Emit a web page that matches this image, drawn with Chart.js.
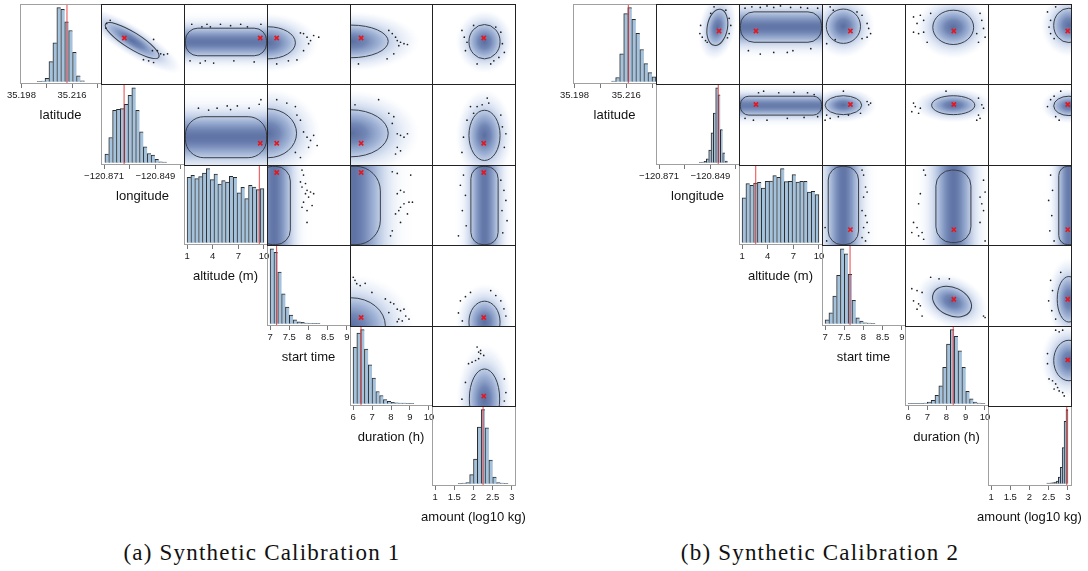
<!DOCTYPE html>
<html>
<head>
<meta charset="utf-8">
<script src="https://cdn.jsdelivr.net/npm/chart.js@4.4.1/dist/chart.umd.min.js"></script>
<style>
  html, body { margin: 0; padding: 0; background: #fff; }
  #fig { position: relative; width: 1088px; height: 571px; overflow: hidden; background: #fff; }
  #fig canvas { position: absolute; }
  .cap { position: absolute; width: 600px; text-align: center; white-space: nowrap;
         font-family: 'Liberation Serif', 'Times New Roman', serif; font-size: 23px;
         letter-spacing: 1.2px; line-height: 26px; color: #111; }
</style>
</head>
<body>
<div id="fig"></div>
<script>
// ---- variables and axes -------------------------------------------------
const variableNames = ['latitude', 'longitude', 'altitude (m)', 'start time', 'duration (h)', 'amount (log10 kg)'];
const axisMin = [35.1975, -120.8723, 0.64, 6.92, 5.84, 0.92];
const axisMax = [35.2263, -120.8367, 10.36, 9.08, 10.16, 3.08];

const latTicks = [35.198, 35.207, 35.216, 35.225];
const latTickLabels = ['35.198', '', '35.216', ''];
const lonTicks = [-120.871, -120.860, -120.849, -120.838];
const lonTickLabels = ['\u2212120.871', '', '\u2212120.849', ''];
const altTicks = [1, 4, 7, 10];
const altTickLabels = ['1', '4', '7', '10'];
const startTicks = [7, 7.5, 8, 8.5, 9];
const startTickLabels = ['7', '7.5', '8', '8.5', '9'];
const durTicks = [6, 7, 8, 9, 10];
const durTickLabels = ['6', '7', '8', '9', '10'];
const amtTicks = [1, 1.5, 2, 2.5, 3];
const amtTickLabels = ['1', '1.5', '2', '2.5', '3'];

// ---- histograms: bin centres and heights --------------------------------
const latBinsA = [35.2043, 35.2057, 35.2071, 35.2085, 35.2099, 35.2113, 35.2127, 35.2141, 35.2155, 35.2169, 35.2183, 35.2197];
const latCountsA = [1, 2, 10, 60, 116, 221, 216, 179, 153, 88, 18, 3];
const lonBinsA = [-120.86980, -120.86815, -120.86650, -120.86485, -120.86320, -120.86155, -120.85990, -120.85825,
                  -120.85660, -120.85495, -120.85330, -120.85165, -120.85000, -120.84835, -120.84670, -120.84505];
const lonCountsA = [26, 76, 158, 161, 163, 176, 203, 226, 158, 93, 48, 28, 23, 10, 3, 2];
const altBins = [1.225, 1.675, 2.125, 2.575, 3.025, 3.475, 3.925, 4.375, 4.825, 5.275,
                 5.725, 6.175, 6.625, 7.075, 7.525, 7.975, 8.425, 8.875, 9.325, 9.775];
const altCountsA = [197, 203, 193, 199, 210, 223, 190, 207, 177, 187, 183, 200, 197, 150, 167, 133, 173, 168, 160, 163];
const startBins = [7.05, 7.15, 7.25, 7.35, 7.45, 7.55, 7.65, 7.75, 7.85, 7.95, 8.05, 8.15, 8.25];
const startCountsA = [226, 215, 156, 90, 50, 26, 12, 6, 4, 2, 1.5, 1, 1];
const durBinsA = [6.1, 6.3, 6.5, 6.7, 6.9, 7.1, 7.3, 7.5, 7.7, 7.9, 8.1, 8.3, 8.5, 8.7, 8.9, 9.1];
const durCountsA = [170, 213, 223, 165, 117, 77, 37, 25, 13, 7, 4, 3, 2, 2, 1, 1];
const amtBinsA = [1.65, 1.75, 1.85, 1.95, 2.05, 2.15, 2.25, 2.35, 2.45, 2.55, 2.65, 2.75, 2.85];
const amtCountsA = [1, 2, 4, 28, 75, 172, 225, 170, 72, 20, 4, 2, 1];

const latBinsB = [35.2116, 35.2130, 35.2144, 35.2158, 35.2172, 35.2186, 35.2200, 35.2214, 35.2228, 35.2242, 35.2256];
const latCountsB = [2, 13, 85, 207, 225, 190, 147, 98, 55, 28, 15];
const lonBinsB = [-120.8532, -120.8522, -120.8512, -120.8502, -120.8492, -120.8482,
                  -120.8472, -120.8462, -120.8452, -120.8442, -120.8432, -120.8422];
const lonCountsB = [1, 2, 4, 12, 38, 90, 150, 226, 205, 100, 30, 5];
const altCountsB = [135, 178, 173, 180, 182, 165, 185, 186, 202, 197, 223, 184, 185, 205, 183, 185, 185, 153, 155, 145];
const startCountsB = [12, 33, 83, 145, 225, 210, 148, 70, 18, 8, 3, 2, 1];
const durBinsB = [6.1, 6.3, 6.5, 6.7, 6.9, 7.1, 7.3, 7.5, 7.7, 7.9, 8.1, 8.3, 8.5, 8.7, 8.9, 9.1, 9.3, 9.5, 9.7, 9.9];
const durCountsB = [1, 1, 1, 1, 2, 5, 10, 25, 53, 108, 177, 220, 200, 157, 108, 37, 15, 5, 2, 1];
const amtBinsB = [2.475, 2.525, 2.575, 2.625, 2.675, 2.725, 2.775, 2.825, 2.875, 2.925, 2.975];
const amtCountsB = [2, 2, 3, 4, 5, 8, 20, 50, 110, 190, 225];

// true parameter values (red lines / red crosses)
const truthA = [35.2142, -120.8624, 9.46, 7.17, 6.42, 2.25];
const truthB = [35.2167, -120.8456, 2.6, 7.65, 8.35, 2.97];

// ---- pair densities: [row, col, centreX, centreY, halfX, halfY, rotationDeg, shape] ----
// shape 'e' = elliptical contour, 'r' = flat band (uniform parameter)
const blobsA = [
  [0, 1, -120.8591, 35.2133, 0.0133, 0.00288, 32, 'e'],
  [0, 2, 5.5, 35.2128, 4.7, 0.0049, 0, 'r'],
  [0, 3, 6.95, 35.2125, 0.70, 0.0057, 0, 'e'],
  [0, 4, 5.9, 35.2130, 1.93, 0.0058, 0, 'e'],
  [0, 5, 2.27, 35.2129, 0.40, 0.0061, 0, 'e'],
  [1, 2, 5.5, -120.8598, 4.7, 0.0089, 0, 'r'],
  [1, 3, 6.95, -120.8581, 0.73, 0.0106, 0, 'e'],
  [1, 4, 5.9, -120.8581, 1.93, 0.0102, 0, 'e'],
  [1, 5, 2.27, -120.8590, 0.40, 0.0109, 0, 'e'],
  [2, 3, 7.1, 5.5, 0.42, 4.7, 0, 'r'],
  [2, 4, 6.0, 5.5, 1.42, 4.7, 0, 'r'],
  [2, 5, 2.27, 5.5, 0.35, 4.7, 0, 'r'],
  [3, 4, 5.9, 6.95, 1.78, 0.74, 0, 'e'],
  [3, 5, 2.27, 7.05, 0.40, 0.55, 0, 'e'],
  [4, 5, 2.27, 6.27, 0.39, 1.60, 0, 'e']
];
const blobsB = [
  [0, 1, -120.8463, 35.2180, 0.0043, 0.0065, 10, 'e'],
  [0, 2, 5.5, 35.2181, 4.7, 0.0054, 0, 'r'],
  [0, 3, 7.47, 35.2184, 0.44, 0.0061, 0, 'e'],
  [0, 4, 8.32, 35.2180, 1.05, 0.0061, 0, 'e'],
  [0, 5, 3.0, 35.2187, 0.39, 0.0061, 0, 'e'],
  [1, 2, 5.5, -120.8461, 4.7, 0.0041, 0, 'r'],
  [1, 3, 7.47, -120.8459, 0.47, 0.0041, 0, 'e'],
  [1, 4, 8.32, -120.8459, 1.11, 0.0041, 0, 'e'],
  [1, 5, 3.0, -120.8462, 0.39, 0.0042, 0, 'e'],
  [2, 3, 7.47, 5.5, 0.39, 4.7, 0, 'r'],
  [2, 4, 8.33, 5.4, 0.90, 4.35, 0, 'r'],
  [2, 5, 3.0, 5.5, 0.26, 4.7, 0, 'r'],
  [3, 4, 8.26, 7.59, 1.05, 0.37, 25, 'e'],
  [3, 5, 3.0, 7.65, 0.30, 0.60, 0, 'e'],
  [4, 5, 3.0, 8.32, 0.39, 1.08, 0, 'e']
];

// ---- outlying samples in each pair panel: [x, y] ----
const dotsA01 = [[-120.8699,35.2194],[-120.8500,35.2137],[-120.8484,35.2097],[-120.8470,35.2086],[-120.8457,35.2083],[-120.8441,35.2086],[-120.8521,35.2061],[-120.8543,35.2065],[-120.8500,35.2055],[-120.8505,35.2097],[-120.8702,35.2177],[-120.8684,35.2205]];
const dotsA02 = [[1.54,35.2191],[2.71,35.2182],[3.30,35.2191],[3.69,35.2182],[4.86,35.2191],[6.03,35.2186],[7.20,35.2191],[7.98,35.2182],[9.54,35.2191],[1.34,35.2061],[2.51,35.2053],[3.10,35.2061],[4.07,35.2053],[6.41,35.2061],[8.76,35.2057]];
const dotsA03 = [[7.78,35.2160],[7.86,35.2158],[7.95,35.2145],[8.04,35.2133],[7.99,35.2122],[7.86,35.2097],[8.12,35.2151],[8.25,35.2145],[7.69,35.2064],[7.47,35.2061],[7.17,35.2050]];
const dotsA04 = [[7.86,35.2169],[8.04,35.2158],[8.21,35.2145],[8.30,35.2133],[8.47,35.2127],[8.65,35.2122],[8.83,35.2119],[8.38,35.2115],[8.12,35.2086],[7.77,35.2068],[6.28,35.2050]];
const dotsA05 = [[1.69,35.2169],[1.75,35.2145],[1.82,35.2127],[1.78,35.2097],[1.99,35.2187],[2.08,35.2050],[2.51,35.2061],[2.64,35.2073],[2.78,35.2091],[2.73,35.2122],[2.69,35.2163],[2.56,35.2181],[2.43,35.2050]];
const dotsA12 = [[2.31,-120.8472],[3.49,-120.8480],[4.47,-120.8472],[5.64,-120.8462],[6.03,-120.8478],[6.81,-120.8462],[8.17,-120.8472],[9.34,-120.8455],[9.54,-120.8435]];
const dotsA13 = [[7.43,-120.8450],[7.65,-120.8465],[7.69,-120.8502],[7.78,-120.8524],[7.86,-120.8575],[7.95,-120.8598],[8.04,-120.8612],[7.99,-120.8642],[8.12,-120.8590],[8.21,-120.8634],[7.65,-120.8664],[7.78,-120.8686],[7.17,-120.8435]];
const dotsA14 = [[6.10,-120.8457],[7.33,-120.8435],[7.86,-120.8494],[8.12,-120.8509],[8.04,-120.8538],[8.30,-120.8583],[8.47,-120.8590],[8.65,-120.8598],[8.83,-120.8583],[8.30,-120.8642],[8.21,-120.8671],[8.47,-120.8657]];
const dotsA15 = [[1.91,-120.8465],[2.08,-120.8465],[2.21,-120.8457],[2.38,-120.8450],[1.99,-120.8494],[1.82,-120.8524],[1.73,-120.8598],[1.69,-120.8664],[2.69,-120.8502],[2.73,-120.8553],[2.82,-120.8583],[2.78,-120.8642],[2.34,-120.8428]];
const dotsA23 = [[7.82,9.75],[7.86,9.15],[7.78,8.33],[7.91,8.14],[7.82,7.72],[7.95,7.32],[8.04,7.12],[7.91,6.92],[8.12,6.92],[7.99,6.51],[7.86,5.90],[7.82,5.29],[7.95,4.89],[8.08,5.50],[7.95,3.47]];
const dotsA24 = [[8.04,9.55],[8.30,9.35],[9.00,9.15],[8.47,7.32],[8.65,7.12],[8.30,6.92],[8.91,5.90],[8.65,5.71],[9.09,5.90],[8.47,5.29],[8.38,4.89],[8.83,4.49],[8.21,4.49],[8.47,3.47],[8.04,2.46],[7.95,1.86]];
const dotsA25 = [[1.73,9.15],[1.65,7.93],[1.78,6.72],[1.70,4.89],[1.80,3.07],[1.60,1.86],[2.69,8.54],[2.77,7.32],[2.82,6.11],[2.72,4.89],[2.85,3.68],[2.74,2.22]];
const dotsA34 = [[6.01,8.23],[6.10,8.15],[6.19,8.06],[6.37,8.01],[6.63,8.07],[6.98,7.83],[7.68,7.66],[7.95,7.57],[8.12,7.53],[8.30,7.39],[8.47,7.35],[8.65,7.39],[8.74,7.21],[8.38,7.13],[8.56,7.08],[8.30,7.06],[8.91,7.13],[7.86,7.30]];
const dotsA35 = [[1.65,7.61],[1.78,7.72],[1.91,7.83],[2.43,7.88],[2.56,7.75],[2.69,7.61],[2.77,7.40],[2.82,7.21],[1.60,7.29],[1.70,7.08]];
const dotsA45 = [[2.08,9.04],[2.12,8.77],[2.17,8.69],[2.25,8.59],[2.04,8.32],[1.95,8.23],[1.86,8.15],[1.78,7.15],[1.69,6.26],[2.78,7.34],[2.82,6.61],[2.78,6.16],[2.12,8.42],[2.17,8.86]];

const dotsB01 = [[-120.8534,35.2187],[-120.8537,35.2158],[-120.8527,35.2145],[-120.8513,35.2133],[-120.8506,35.2127],[-120.8413,35.2212],[-120.8406,35.2187],[-120.8413,35.2158],[-120.8420,35.2143],[-120.8491,35.2230],[-120.8477,35.2253],[-120.8427,35.2241]];
const dotsB02 = [[1.34,35.2248],[2.13,35.2253],[3.10,35.2251],[3.88,35.2256],[4.66,35.2251],[5.44,35.2256],[6.61,35.2251],[7.78,35.2251],[8.57,35.2248],[9.74,35.2248],[1.73,35.2097],[3.10,35.2085],[4.66,35.2091],[6.23,35.2091],[6.88,35.2097],[8.95,35.2104]];
const dotsB03 = [[7.13,35.2253],[7.21,35.2241],[7.82,35.2235],[7.95,35.2223],[8.08,35.2194],[8.12,35.2176],[8.17,35.2158],[8.08,35.2145],[7.95,35.2140],[7.04,35.2122],[7.26,35.2136]];
const dotsB04 = [[6.28,35.2217],[6.63,35.2223],[6.80,35.2205],[6.46,35.2194],[6.28,35.2163],[6.54,35.2158],[6.80,35.2163],[6.98,35.2127],[7.16,35.2230],[9.70,35.2230],[9.79,35.2205],[9.88,35.2176],[9.96,35.2145],[9.62,35.2127],[9.53,35.2158]];
const dotsB05 = [[2.45,35.2235],[2.53,35.2205],[2.49,35.2181],[2.53,35.2158],[2.62,35.2140],[2.66,35.2253]];
const dotsB12 = [[2.90,-120.8405],[3.49,-120.8398],[5.24,-120.8405],[7.00,-120.8403],[8.57,-120.8405],[9.34,-120.8413],[1.34,-120.8516],[2.31,-120.8524],[3.88,-120.8524],[6.23,-120.8516],[8.17,-120.8512],[9.74,-120.8509]];
const dotsB13 = [[8.08,-120.8443],[8.12,-120.8457],[8.17,-120.8450],[7.47,-120.8398],[7.04,-120.8502],[7.13,-120.8516],[7.34,-120.8509],[7.60,-120.8502],[7.91,-120.8494],[7.00,-120.8524]];
const dotsB14 = [[6.28,-120.8450],[6.37,-120.8465],[6.63,-120.8472],[6.54,-120.8494],[6.19,-120.8487],[9.62,-120.8428],[9.79,-120.8457],[9.88,-120.8472],[9.62,-120.8502],[9.53,-120.8524],[7.95,-120.8398],[9.70,-120.8516]];
const dotsB15 = [[2.45,-120.8465],[2.53,-120.8435],[2.62,-120.8420],[2.66,-120.8509],[2.75,-120.8524],[2.79,-120.8398]];
const dotsB23 = [[7.04,1.25],[7.95,9.75],[7.99,9.15],[8.04,7.72],[8.08,7.12],[7.99,6.51],[7.95,4.89],[8.04,4.29],[8.08,3.47],[7.99,2.86],[8.12,2.26],[7.95,1.65],[8.04,1.25],[7.00,2.86]];
const dotsB24 = [[6.80,9.75],[6.89,9.15],[6.63,6.92],[6.54,5.71],[6.28,3.47],[6.46,2.86],[6.19,2.26],[6.72,2.26],[6.54,1.86],[6.80,1.45],[9.88,8.54],[9.96,7.12],[9.70,6.51],[9.79,5.71],[9.88,4.89],[9.70,3.47],[9.96,1.25]];
const dotsB25 = [[2.53,9.15],[2.58,7.32],[2.48,6.11],[2.56,4.29],[2.51,2.46],[2.62,1.25]];
const dotsB34 = [[6.19,7.93],[6.46,7.88],[6.72,7.83],[6.28,7.61],[6.54,7.53],[6.63,7.48],[6.46,7.39],[6.72,7.21],[7.16,8.23],[7.59,8.19],[8.12,8.19],[9.88,7.21],[9.96,7.17]];
const dotsB35 = [[2.53,8.15],[2.58,7.88],[2.48,7.61],[2.56,7.35],[2.66,7.13],[2.79,8.36]];
const dotsB45 = [[2.66,9.94],[2.75,9.85],[2.84,9.94],[2.45,8.69],[2.45,8.15],[2.49,7.34],[2.58,7.24],[2.66,7.07],[2.71,6.88],[2.75,6.70],[2.84,6.61],[2.88,6.43],[2.62,6.80]];

// ---- layout ----------------------------------------------------------------
const rowEdges = [4, 84, 165, 245, 326, 406, 486];
const colEdgesA = [20, 101, 184, 267, 350, 432, 515];
const colEdgesB = [573, 656, 739, 822, 905, 988, 1071];
const AXIS_H = 44;
const PADX = 40;

const tickValues = [latTicks, lonTicks, altTicks, startTicks, durTicks, amtTicks];
const tickLabels = [latTickLabels, lonTickLabels, altTickLabels, startTickLabels, durTickLabels, amtTickLabels];

const panels = [
  {
    cols: colEdgesA, truth: truthA, blobs: blobsA,
    hist: [[latBinsA, latCountsA], [lonBinsA, lonCountsA], [altBins, altCountsA],
           [startBins, startCountsA], [durBinsA, durCountsA], [amtBinsA, amtCountsA]],
    dots: {'01': dotsA01, '02': dotsA02, '03': dotsA03, '04': dotsA04, '05': dotsA05,
           '12': dotsA12, '13': dotsA13, '14': dotsA14, '15': dotsA15,
           '23': dotsA23, '24': dotsA24, '25': dotsA25, '34': dotsA34, '35': dotsA35, '45': dotsA45}
  },
  {
    cols: colEdgesB, truth: truthB, blobs: blobsB,
    hist: [[latBinsB, latCountsB], [lonBinsB, lonCountsB], [altBins, altCountsB],
           [startBins, startCountsB], [durBinsB, durCountsB], [amtBinsB, amtCountsB]],
    dots: {'01': dotsB01, '02': dotsB02, '03': dotsB03, '04': dotsB04, '05': dotsB05,
           '12': dotsB12, '13': dotsB13, '14': dotsB14, '15': dotsB15,
           '23': dotsB23, '24': dotsB24, '25': dotsB25, '34': dotsB34, '35': dotsB35, '45': dotsB45}
  }
];

const FONT = "'Liberation Sans', Arial, Helvetica, sans-serif";
Chart.defaults.font.family = FONT;
Chart.defaults.animation = false;

const fig = document.getElementById('fig');
function addCanvas(left, top, w, h) {
  const c = document.createElement('canvas');
  c.width = w; c.height = h;
  c.style.left = left + 'px'; c.style.top = top + 'px';
  fig.appendChild(c);
  return c;
}

// colour ramp of the smoothed density, by distance relative to the contour
const densityRamp = [
  [0.00, 'rgba(90,110,160,1)'],
  [0.40, 'rgba(108,130,178,0.96)'],
  [0.75, 'rgba(142,164,205,0.86)'],
  [1.00, 'rgba(170,189,222,0.74)'],
  [1.30, 'rgba(197,211,235,0.52)'],
  [1.60, 'rgba(217,227,243,0.3)'],
  [1.90, 'rgba(232,238,248,0.12)']
];
function rampStops(G) {
  const s = densityRamp.filter(d => d[0] < G).map(d => [d[0] / G, d[1]]);
  s.push([1, 'rgba(236,241,249,0)']);
  return s;
}

function roundedRectPath(ctx, x, y, w, h, r) {
  ctx.beginPath();
  ctx.moveTo(x + r, y);
  ctx.lineTo(x + w - r, y); ctx.arcTo(x + w, y, x + w, y + r, r);
  ctx.lineTo(x + w, y + h - r); ctx.arcTo(x + w, y + h, x + w - r, y + h, r);
  ctx.lineTo(x + r, y + h); ctx.arcTo(x, y + h, x, y + h - r, r);
  ctx.lineTo(x, y + r); ctx.arcTo(x, y, x + r, y, r);
  ctx.closePath();
}

// draws the smoothed density and its contour behind the points
function densityPlugin(blob) {
  return {
    id: 'density',
    beforeDatasetsDraw(chart) {
      const [, , cx, cy, hx, hy, rot, shape] = blob;
      const { ctx, chartArea: a } = chart;
      const xs = chart.scales.x, ys = chart.scales.y;
      const px = xs.getPixelForValue(cx), py = ys.getPixelForValue(cy);
      const rx = Math.abs(xs.getPixelForValue(cx + hx) - px);
      const ry = Math.abs(ys.getPixelForValue(cy + hy) - py);
      ctx.save();
      ctx.beginPath();
      ctx.rect(a.left, a.top, a.right - a.left, a.bottom - a.top);
      ctx.clip();
      if (shape === 'e') {
        const G = 1.85;
        ctx.translate(px, py);
        ctx.rotate(rot * Math.PI / 180);
        ctx.save();
        ctx.scale(rx * G, ry * G);
        const g = ctx.createRadialGradient(0, 0, 0, 0, 0, 1);
        rampStops(G).forEach(([o, c]) => g.addColorStop(o, c));
        ctx.fillStyle = g;
        ctx.beginPath(); ctx.arc(0, 0, 1, 0, Math.PI * 2); ctx.fill();
        ctx.restore();
        ctx.beginPath(); ctx.ellipse(0, 0, rx, ry, 0, 0, Math.PI * 2);
        ctx.lineWidth = 1; ctx.strokeStyle = '#3a3f47'; ctx.stroke();
      } else {
        const G = 2.2;
        const vertical = ry > rx;
        const thin = vertical ? rx : ry;
        const e = thin * G;
        let g;
        ctx.save();
        ctx.filter = 'blur(2.5px)';
        if (vertical) {
          g = ctx.createLinearGradient(px - e, 0, px + e, 0);
        } else {
          g = ctx.createLinearGradient(0, py - e, 0, py + e);
        }
        rampStops(G).forEach(([o, c]) => { g.addColorStop(0.5 - o / 2, c); g.addColorStop(0.5 + o / 2, c); });
        ctx.fillStyle = g;
        if (vertical) ctx.fillRect(px - e, py - ry - e * 0.3, 2 * e, 2 * (ry + e * 0.3));
        else ctx.fillRect(px - rx - e * 0.3, py - e, 2 * (rx + e * 0.3), 2 * e);
        ctx.restore();
        roundedRectPath(ctx, px - rx, py - ry, 2 * rx, 2 * ry, Math.min(rx, ry) * 0.9);
        ctx.lineWidth = 1; ctx.strokeStyle = '#3a3f47'; ctx.stroke();
      }
      ctx.restore();
    }
  };
}

function framePlugin(color, inset) {
  return {
    id: 'frame',
    afterDraw(chart) {
      const { ctx, chartArea: a } = chart;
      ctx.save();
      ctx.strokeStyle = color; ctx.lineWidth = 1;
      if (inset) ctx.strokeRect(a.left + 0.5, a.top + 0.5, a.right - a.left - 1, a.bottom - a.top - 1);
      else ctx.strokeRect(a.left + 0.5, a.top + 0.5, a.right - a.left, a.bottom - a.top - 1);
      ctx.restore();
    }
  };
}

// variable name under each histogram axis (drawn at full width, not squeezed to the cell)
function axisNamePlugin(name) {
  return {
    id: 'axisName',
    afterDraw(chart) {
      const { ctx, chartArea: a } = chart;
      ctx.save();
      ctx.font = '13px ' + FONT;
      ctx.fillStyle = '#111';
      ctx.textAlign = 'center';
      ctx.textBaseline = 'middle';
      ctx.fillText(name, (a.left + a.right) / 2, a.bottom + 31);
      ctx.restore();
    }
  };
}

function histChart(panel, i) {
  const x0 = panel.cols[i], x1 = panel.cols[i + 1];
  const y0 = rowEdges[i], y1 = rowEdges[i + 1];
  const w = x1 - x0, h = y1 - y0;
  const cv = addCanvas(x0 - PADX, y0, w + 2 * PADX, h + AXIS_H);
  const [bins, counts] = panel.hist[i];
  const peak = Math.max(...counts);
  const yMin = -0.03 * peak, yMax = 1.05 * peak;
  const t = panel.truth[i];
  const last = bins.length - 1;
  new Chart(cv, {
    type: 'bar',
    data: {
      datasets: [
        { type: 'line', data: [{ x: t, y: yMin }, { x: t, y: yMax }], borderColor: 'rgba(228,38,38,0.85)',
          borderWidth: 1, pointRadius: 0, order: 0 },
        { type: 'bar', data: bins.map((b, k) => ({ x: b, y: counts[k] })),
          backgroundColor: '#a5c2dc', borderColor: '#2b2b2b',
          borderWidth: c => ({ top: 1, left: 1, right: c.dataIndex === last ? 1 : 0, bottom: 0 }),
          barPercentage: 1, categoryPercentage: 1, order: 1 }
      ]
    },
    options: {
      responsive: false, animation: false, devicePixelRatio: 1, events: [],
      layout: { autoPadding: false, padding: { left: PADX, right: PADX, top: 0, bottom: 0 } },
      plugins: { legend: { display: false }, tooltip: { enabled: false } },
      scales: {
        x: {
          type: 'linear', position: 'bottom', min: axisMin[i], max: axisMax[i], offset: false,
          afterBuildTicks: s => { s.ticks = tickValues[i].map(v => ({ value: v })); },
          afterFit: s => { s.height = AXIS_H; },
          ticks: { autoSkip: false, maxRotation: 0, minRotation: 0, padding: 2, color: '#1a1a1a',
                   font: { size: 9.5 }, callback: (v, k) => tickLabels[i][k] },
          grid: { display: true, offset: false, drawOnChartArea: false, drawTicks: true, tickLength: 4,
                  tickColor: '#777', color: '#777' },
          border: { display: false },
          title: { display: false }
        },
        y: { display: false, min: yMin, max: yMax }
      }
    },
    plugins: [framePlugin('#a0a0a0', false), axisNamePlugin(variableNames[i])]
  });
}

function pairChart(panel, blob) {
  const r = blob[0], c = blob[1];
  const x0 = panel.cols[c], x1 = panel.cols[c + 1];
  const y0 = rowEdges[r], y1 = rowEdges[r + 1];
  const cv = addCanvas(x0, y0, x1 - x0 + 1, y1 - y0 + 1);
  const dots = panel.dots['' + r + c];
  new Chart(cv, {
    type: 'scatter',
    data: {
      datasets: [
        { data: [{ x: panel.truth[c], y: panel.truth[r] }], pointStyle: 'crossRot', pointRadius: 3,
          borderColor: '#e8161e', backgroundColor: '#e8161e', borderWidth: 1.6, order: 0 },
        { data: dots.map(([a, b]) => ({ x: a, y: b })), pointRadius: 0.85, backgroundColor: '#1e1e1e',
          borderWidth: 0, order: 1 }
      ]
    },
    options: {
      responsive: false, animation: false, devicePixelRatio: 1, events: [],
      layout: { autoPadding: false, padding: 0 },
      plugins: { legend: { display: false }, tooltip: { enabled: false } },
      scales: {
        x: { display: false, min: axisMin[c], max: axisMax[c] },
        y: { display: false, min: axisMin[r], max: axisMax[r] }
      }
    },
    plugins: [densityPlugin(blob), framePlugin('#222', true)]
  });
}

panels.forEach(p => {
  for (let i = 0; i < 6; i++) histChart(p, i);
  p.blobs.forEach(b => pairChart(p, b));
});

// sub-figure captions
[['(a) Synthetic Calibration 1', 262], ['(b) Synthetic Calibration 2', 820]].forEach(([txt, cx]) => {
  const d = document.createElement('div');
  d.className = 'cap';
  d.textContent = txt;
  d.style.left = (cx - 300) + 'px';
  d.style.top = '540px';
  fig.appendChild(d);
});
</script>
</body>
</html>
